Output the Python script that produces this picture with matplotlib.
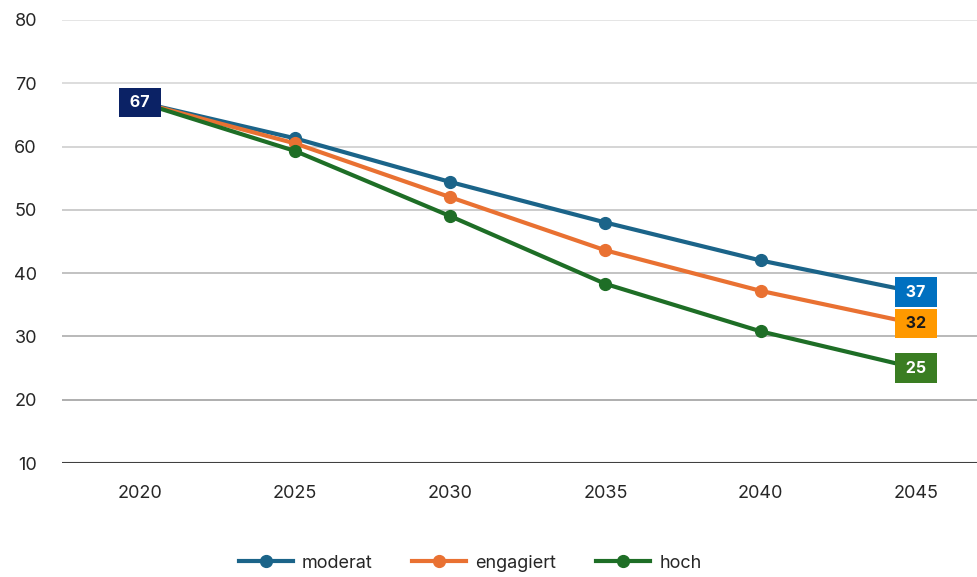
import matplotlib
matplotlib.use("Agg")
import matplotlib.pyplot as plt

plt.rcParams['font.family'] = ['Inter', 'DejaVu Sans']

years = [2020, 2025, 2030, 2035, 2040, 2045]
moderat = [67, 61.3, 54.4, 48.0, 42.0, 37]
engagiert = [67, 60.5, 52.0, 43.6, 37.2, 32]
hoch = [67, 59.3, 49.0, 38.3, 30.8, 25]

series = [
    ("moderat", moderat, "#1B6489"),
    ("engagiert", engagiert, "#E97132"),
    ("hoch", hoch, "#1E6E26"),
]

yticks = [10, 20, 30, 40, 50, 60, 70, 80]
grid_colors = {80: "#e3e3e3", 70: "#dadada", 60: "#d2d2d2", 50: "#c8c8c8",
               40: "#bdbdbd", 30: "#b3b3b3", 20: "#a8a8a8"}

fig = plt.figure(figsize=(9.77, 5.77), dpi=100)
ax = fig.add_axes([62 / 977, 1 - 463 / 577, (977 - 62) / 977, (463 - 20) / 577])

for y, c in grid_colors.items():
    ax.axhline(y, color=c, lw=1.3, zorder=0)
ax.axhline(10, color="#404040", lw=1.5, zorder=1)

for name, vals, col in series:
    ax.plot(years, vals, color=col, lw=3, marker="o", ms=8.5, label=name, zorder=3)

# end-point value labels
box_specs = [
    (years[0], moderat[0], "#0B2265", "white"),
    (years[-1], moderat[-1], "#0070C0", "white"),
    (years[-1], engagiert[-1], "#FF9900", "#1a1a1a"),
    (years[-1], hoch[-1], "#3A7D22", "white"),
]
for x, v, fc, tc in box_specs:
    ax.text(x, v, f" {v:.0f} ", ha="center", va="center", fontsize=11.5, fontweight="bold",
            color=tc, zorder=5,
            bbox=dict(boxstyle="square,pad=0.45", fc=fc, ec="none"))

ax.set_xlim(2017.49, 2046.97)
ax.set_ylim(10, 80)
ax.set_yticks(yticks)
ax.set_xticks(years)
for s in ax.spines.values():
    s.set_visible(False)
ax.tick_params(axis="both", length=0, labelsize=13, colors="#262626")
ax.tick_params(axis="y", pad=18)
ax.tick_params(axis="x", pad=16)

ax.legend(loc="center", bbox_to_anchor=(470 / 977, 1 - 563 / 577), bbox_transform=fig.transFigure,
          ncol=3, frameon=False, fontsize=13, handlelength=3, columnspacing=2.2,
          handletextpad=0.5, labelcolor="#262626")

fig.savefig("out.png", dpi=100)
